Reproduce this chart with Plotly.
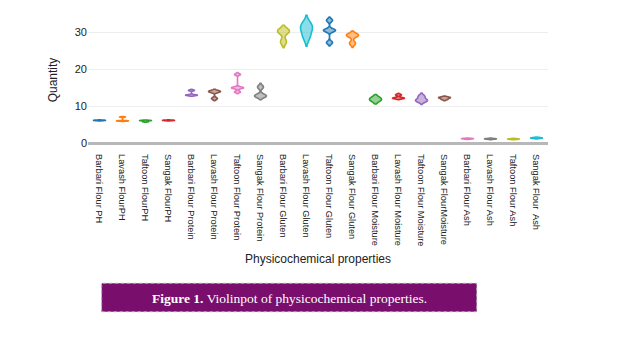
import plotly.graph_objects as go

# ---- data ----
categories = [
    "Barbari Flour PH", "Lavash FlourPH", "Taftoon FlourPH", "Sangak FlourPH",
    "Barbari Flour Protein", "Lavash Flour Protein", "Taftoon Flour Protein", "Sangak Flour Protein",
    "Barbari Flour Gluten", "Lavash Flour Gluten", "Taftoon Flour Gluten", "Sangak Flour Gluten",
    "Barbari Flour Moisture", "Lavash Flour Moisture", "Taftoon Flour Moisture", "Sangak FlourMoisture",
    "Barbari Flour Ash", "Lavash Flour Ash", "Taftoon Flour Ash", "Sangak Flour  Ash",
]

ph_values = [
    [6.2, 6.2, 6.2],
    [6.05, 6.05, 7.1],
    [6.15, 6.15, 5.85],
    [6.2, 6.2, 6.2],
]
protein_values = [
    [13.0, 13.0, 14.3],
    [14.0, 14.0, 12.1],
    [15.0, 15.0, 13.9, 18.6],
    [12.8, 12.8, 15.2],
]
gluten_values = [
    [30.3, 30.3, 27.4],
    [28.8, 31.0, 32.0],
    [27.2, 30.5, 30.5, 33.2],
    [29.2, 29.2, 27.0],
]
moisture_values = [
    [11.9, 11.9, 11.9],
    [12.2, 12.2, 13.1],
    [11.4, 11.7, 12.7],
    [12.35, 12.35, 11.9],
]
ash_values = [
    [1.25, 1.25, 1.25],
    [1.2, 1.2, 1.2],
    [1.15, 1.15, 1.15],
    [1.45, 1.45, 1.45],
]

# kernel bandwidths per violin (style of the density estimate)
bandwidths = [
    0.08, 0.08, 0.08, 0.08,
    0.15, 0.3, 0.25, 0.5,
    0.8, 1.3, 0.45, 0.55,
    0.65, 0.2, 0.45, 0.2,
    0.1, 0.1, 0.1, 0.12,
]

colorway = ["#1f77b4", "#ff7f0e", "#2ca02c", "#d62728", "#9467bd",
            "#8c564b", "#e377c2", "#7f7f7f", "#bcbd22", "#17becf"]

all_values = ph_values + protein_values + gluten_values + moisture_values + ash_values

# ---- layout constants ----
W, H = 636, 351
ML, MR, MT, MB = 88, 88, 10, 201
PLOT_H = H - MT - MB
PLOT_W = W - ML - MR

fig = go.Figure()
for name, vals, bw in zip(categories, all_values, bandwidths):
    fig.add_trace(go.Violin(
        x=[name] * len(vals), y=vals, name=name,
        bandwidth=bw, width=0.52, points=False,
        line=dict(width=1.6), showlegend=False,
    ))

def px_x(p):
    return (p - ML) / PLOT_W

def px_y(p):
    return (MT + PLOT_H - p) / PLOT_H

fig.update_layout(
    width=W, height=H,
    margin=dict(l=ML, r=MR, t=MT, b=MB),
    paper_bgcolor="white", plot_bgcolor="white",
    colorway=colorway,
    font=dict(family="Liberation Sans, Arial", color="#222"),
    violinmode="overlay",
    xaxis=dict(
        type="category", categoryorder="array", categoryarray=categories,
        range=[-0.5, len(categories) - 0.5],
        tickangle=90, tickfont=dict(size=9.3, color="#222"),
        ticklabelstandoff=3,
        showgrid=False, showline=False, zeroline=False, ticks="",
        title=dict(text="Physicochemical properties", font=dict(size=12, color="#222"), standoff=9),
    ),
    yaxis=dict(
        range=[-1.8, 36], tickvals=[0, 10, 20, 30],
        tickfont=dict(size=11, color="#222"),
        showgrid=True, gridcolor="#eeeeee", gridwidth=1,
        zeroline=True, zerolinecolor="#b8b8b8", zerolinewidth=2.5,
        showline=False, ticks="",
        title=dict(text="Quantity", font=dict(size=12, color="#222"), standoff=14),
    ),
    shapes=[dict(
        type="rect", xref="paper", yref="paper",
        x0=px_x(101.7), x1=px_x(476.7), y0=px_y(311.7), y1=px_y(283.3),
        fillcolor="#790e6d", line=dict(color="#a8a8a8", width=1, dash="dot"),
        layer="above",
    )],
    annotations=[dict(
        xref="paper", yref="paper", x=px_x(289), y=px_y(298.5),
        xanchor="center", yanchor="middle", showarrow=False,
        text="<b>Figure 1.</b> Violinpot of physicochemical properties.",
        font=dict(family="Liberation Serif, Times New Roman", size=13.5, color="white"),
    )],
)

fig.write_html("out.html")
